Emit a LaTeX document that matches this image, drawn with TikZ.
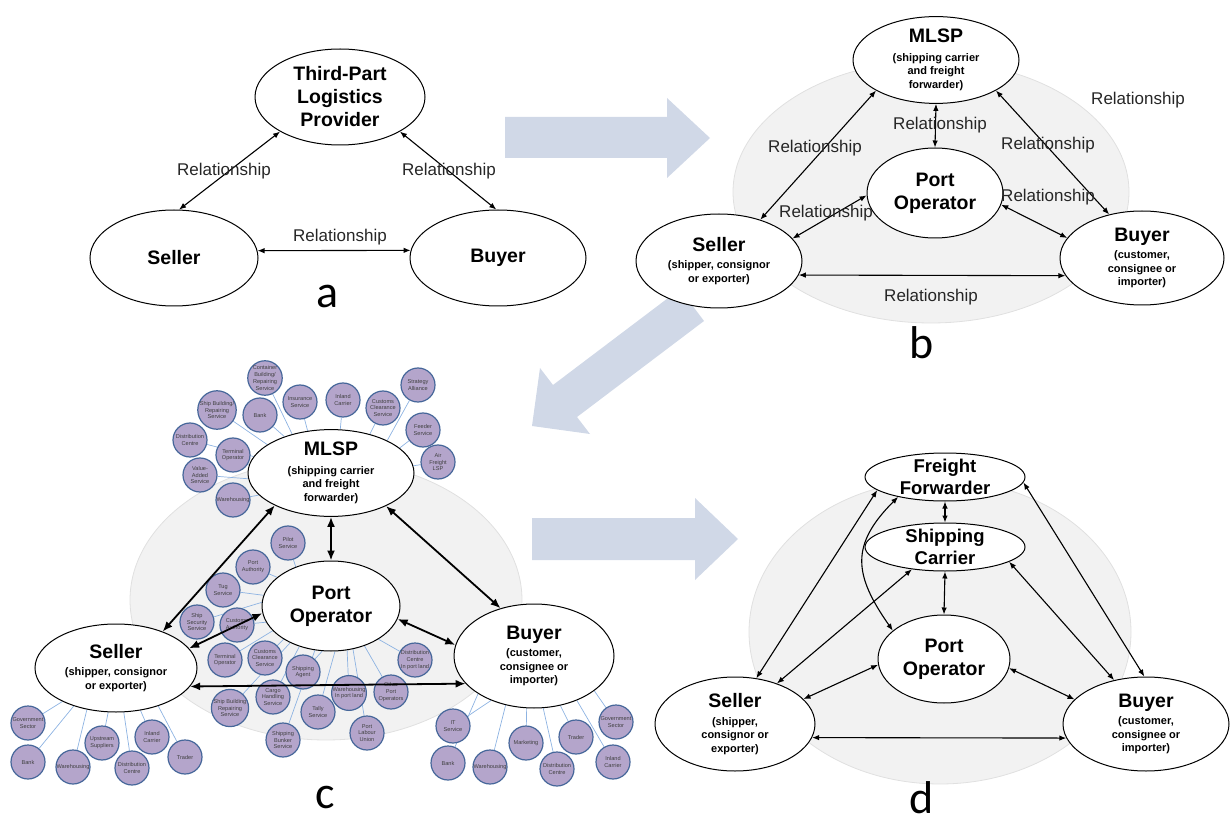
\documentclass[tikz,border=0pt]{standalone}
\usepackage{fontspec}
\setmainfont{Liberation Sans}
\newfontfamily\panelfont{Carlito}
\usetikzlibrary{shapes.geometric,arrows.meta}
\definecolor{hazefill}{HTML}{F2F2F2}
\definecolor{hazeedge}{HTML}{E0E0E0}
\definecolor{flowcol}{HTML}{D0D8E7}
\definecolor{satfill}{HTML}{B4A5CB}
\definecolor{satedge}{HTML}{46679A}
\definecolor{tiecol}{HTML}{8DB3E2}
\pgfdeclarelayer{back}
\pgfdeclarelayer{ties}
\pgfsetlayers{back,ties,main}
\tikzset{party/.style={ellipse, draw, line width=1pt, fill=white, inner sep=0pt,
           align=center, font=\bfseries\fontsize{19.5}{23}\selectfont}}
\tikzset{partysub/.style={party, font=\bfseries\fontsize{11}{13.5}\selectfont}}
\tikzset{sat/.style={circle, draw=satedge, line width=1.2pt, fill=satfill,
           minimum size=34pt, inner sep=0pt, align=center, text=black!75,
           font=\fontsize{5.6}{6.8}\selectfont}}
\tikzset{tie/.style={draw=tiecol, line width=0.7pt}}
\tikzset{rel/.style={<->, >={Latex[length=7pt,width=5.5pt]}, line width=1.1pt}}
\tikzset{relc/.style={rel, >={Latex[length=10pt,width=8pt]}, line width=1.8pt}}
\tikzset{lbl/.style={font=\fontsize{17}{20}\selectfont, text=black!85}}
\tikzset{panel/.style={font=\panelfont\fontsize{46}{50}\selectfont}}
\tikzset{ring/.style={fill=hazefill, draw=hazeedge, line width=0.8pt}}
\newcommand\bigtitle[1]{{\fontsize{19.5}{23}\selectfont #1}}

\begin{document}
\begin{tikzpicture}[x=1pt, y=-1pt]
  \useasboundingbox (0,0) rectangle (1232,826);
  % grey backdrops and the three big arrows
  \begin{pgfonlayer}{back}
    \path[ring] (931,192) ellipse [x radius=198, y radius=131];
    \path[ring] (326,600) ellipse [x radius=196, y radius=140];
    \path[ring] (940,632) ellipse [x radius=191, y radius=152];
    \fill[flowcol] (505,117) -- (667,117) -- (667,98) -- (710,138) -- (667,178)
      -- (667,158) -- (505,158) -- cycle;
    \fill[flowcol] (680,289) -- (553,385) -- (540,368) -- (532,426) -- (590,434)
      -- (577,417) -- (704,321) -- cycle;
    \fill[flowcol] (532,518) -- (695,518) -- (695,498) -- (738,539) -- (695,580)
      -- (695,560) -- (532,560) -- cycle;
  \end{pgfonlayer}

  % a
  \node[party, minimum width=170pt, minimum height=96pt] (tpl) at (340,97) {Third-Part\\Logistics\\Provider};
  \node[party, minimum width=168pt, minimum height=96pt] (sella) at (174,258) {Seller};
  \node[party, minimum width=176pt, minimum height=96pt] (buya) at (498,258) {Buyer};
  \draw[rel] (tpl.210) -- (sella.84);
  \draw[rel] (tpl.330) -- (buya.92);
  \draw[rel] (sella.5) -- (buya.175);
  \node[lbl] (ra1) at (224,171) {Relationship};
  \node[lbl] (ra2) at (449,171) {Relationship};
  \node[lbl] (ra3) at (340,237) {Relationship};
  \node[panel] (pa) at (328,296) {a};

  % b
  \node[partysub, minimum width=166pt, minimum height=82pt] (mlspb) at (936,60)
    {\bigtitle{MLSP}\\[5pt](shipping carrier\\and freight\\forwarder)};
  \node[party, minimum width=136pt, minimum height=90pt] (portb) at (935,193) {Port\\Operator};
  \node[partysub, minimum width=166pt, minimum height=94pt] (sellb) at (719,261)
    {\bigtitle{Seller}\\[4pt](shipper, consignor\\or exporter)};
  \node[partysub, minimum width=164pt, minimum height=94pt] (buyb) at (1142,258)
    {\bigtitle{Buyer}\\[4pt](customer,\\consignee or\\importer)};
  \draw[rel] (mlspb.207) -- (sellb.45);
  \draw[rel] (mlspb.270) -- (portb.90);
  \draw[rel] (mlspb.333) -- (buyb.127);
  \draw[rel] (portb.182) -- (sellb.17);
  \draw[rel] (portb.350) -- (buyb.165);
  \draw[rel] (sellb.350) -- (buyb.193);
  \node[lbl] (rb1) at (1138,100) {Relationship};
  \node[lbl] (rb2) at (940,125) {Relationship};
  \node[lbl] (rb3) at (815,148) {Relationship};
  \node[lbl] (rb4) at (1048,145) {Relationship};
  \node[lbl] (rb5) at (1048,197) {Relationship};
  \node[lbl] (rb6) at (826,213) {Relationship};
  \node[lbl] (rb7) at (931,297) {Relationship};
  \node[panel] (pb) at (922,343) {b};

  % c
  \node[partysub, minimum width=166pt, minimum height=86pt] (mlspc) at (331,473)
    {\bigtitle{MLSP}\\[5pt](shipping carrier\\and freight\\forwarder)};
  \node[party, minimum width=138pt, minimum height=90pt] (portc) at (331,606) {Port\\Operator};
  \node[partysub, minimum width=162pt, minimum height=88pt] (sellc) at (116,668)
    {\bigtitle{Seller}\\[4pt](shipper, consignor\\or exporter)};
  \node[partysub, minimum width=160pt, minimum height=104pt] (buyc) at (534,656)
    {\bigtitle{Buyer}\\[4pt](customer,\\consignee or\\importer)};

  \node[sat] (cbr) at (265,378) {Container\\Building/\\Repairing\\Service};
  \node[sat] (ins) at (300,402) {Insurance\\Service};
  \node[sat] (inl) at (343,400) {Inland\\Carrier};
  \node[sat] (ccm) at (383,408) {Customs\\Clearance\\Service};
  \node[sat] (sta) at (418,385) {Strategy\\Alliance};
  \node[sat] (fdr) at (423,430) {Feeder\\Service};
  \node[sat] (afl) at (438,462) {Air\\Freight\\LSP};
  \node[sat] (bkm) at (260,415) {Bank};
  \node[sat] (sbm) at (217,410) {Ship Building/\\Repairing\\Service};
  \node[sat] (dcm) at (190,440) {Distribution\\Centre};
  \node[sat] (tom) at (233,455) {Terminal\\Operator};
  \node[sat] (vam) at (200,475) {Value-\\Added\\Service};
  \node[sat] (whm) at (233,500) {Warehousing};

  \node[sat] (plt) at (288,543) {Pilot\\Service};
  \node[sat] (pau) at (253,567) {Port\\Authority};
  \node[sat] (tug) at (223,590) {Tug\\Service};
  \node[sat] (sss) at (197,622) {Ship\\Security\\Service};
  \node[sat] (cau) at (237,625) {Customs\\Authority};
  \node[sat] (top) at (225,660) {Terminal\\Operator};
  \node[sat] (ccp) at (265,658) {Customs\\Clearance\\Service};
  \node[sat] (sag) at (303,672) {Shipping\\Agent};
  \node[sat] (chs) at (273,697) {Cargo\\Handling\\Service};
  \node[sat] (sbp) at (230,708) {Ship Building\\Repairing\\Service};
  \node[sat] (sbs) at (283,740) {Shipping\\Bunker\\Service};
  \node[sat] (tly) at (318,712) {Tally\\Service};
  \node[sat] (wpl) at (349,693) {Warehousing\\In port land};
  \node[sat] (plu) at (367,733) {Port\\Labour\\Union};
  \node[sat] (opo) at (391,692) {Other\\Port\\Operators};
  \node[sat] (dcp) at (415,660) {Distribution\\Centre\\In port land};

  \node[sat] (gvs) at (28,723) {Government\\Sector};
  \node[sat] (bks) at (28,762) {Bank};
  \node[sat] (wss) at (73,767) {Warehousing};
  \node[sat] (ups) at (102,743) {Upstream\\Suppliers};
  \node[sat] (dcs) at (132,768) {Distribution\\Centre};
  \node[sat] (ics) at (152,737) {Inland\\Carrier};
  \node[sat] (trs) at (185,757) {Trader};

  \node[sat] (itb) at (453,726) {IT\\Service};
  \node[sat] (bkb) at (448,763) {Bank};
  \node[sat] (whb) at (490,767) {Warehousing};
  \node[sat] (mkb) at (526,743) {Marketing};
  \node[sat] (dcb) at (557,769) {Distribution\\Centre};
  \node[sat] (trb) at (576,737) {Trader};
  \node[sat] (gvb) at (616,722) {Government\\Sector};
  \node[sat] (icb) at (613,762) {Inland\\Carrier};

  \begin{pgfonlayer}{ties}
    \draw[tie] (cbr) -- (mlspc.135);
    \draw[tie] (ins) -- (mlspc.119);
    \draw[tie] (inl) -- (mlspc.78);
    \draw[tie] (ccm) -- (mlspc.45);
    \draw[tie] (sta) -- (mlspc.30);
    \draw[tie] (fdr) -- (mlspc.20);
    \draw[tie] (afl) -- (mlspc.5);
    \draw[tie] (bkm) -- (mlspc.142);
    \draw[tie] (sbm) -- (mlspc.156);
    \draw[tie] (dcm) -- (mlspc.168);
    \draw[tie] (tom) -- (mlspc.174);
    \draw[tie] (vam) -- (mlspc.184);
    \draw[tie] (whm) -- (mlspc.197);
    \draw[tie] (plt) -- (portc.132);
    \draw[tie] (pau) -- (portc.152);
    \draw[tie] (tug) -- (portc.171);
    \draw[tie] (sss) -- (portc.177);
    \draw[tie] (cau) -- (portc.194);
    \draw[tie] (top) -- (portc.203);
    \draw[tie] (ccp) -- (portc.215);
    \draw[tie] (sag) -- (portc.259);
    \draw[tie] (chs) -- (portc.232);
    \draw[tie] (sbp) -- (portc.222);
    \draw[tie] (sbs) -- (portc.250);
    \draw[tie] (tly) -- (portc.275);
    \draw[tie] (wpl) -- (portc.290);
    \draw[tie] (plu) -- (portc.297);
    \draw[tie] (opo) -- (portc.310);
    \draw[tie] (dcp) -- (portc.325);
    \draw[tie] (gvs) -- (sellc.212);
    \draw[tie] (bks) -- (sellc.222);
    \draw[tie] (wss) -- (sellc.235);
    \draw[tie] (ups) -- (sellc.260);
    \draw[tie] (dcs) -- (sellc.280);
    \draw[tie] (ics) -- (sellc.300);
    \draw[tie] (trs) -- (sellc.318);
    \draw[tie] (itb) -- (buyc.226);
    \draw[tie] (bkb) -- (buyc.214);
    \draw[tie] (whb) -- (buyc.240);
    \draw[tie] (mkb) -- (buyc.262);
    \draw[tie] (dcb) -- (buyc.280);
    \draw[tie] (trb) -- (buyc.298);
    \draw[tie] (gvb) -- (buyc.330);
    \draw[tie] (icb) -- (buyc.314);
  \end{pgfonlayer}

  \draw[relc] (mlspc.210) -- (sellc.38);
  \draw[relc] (mlspc.270) -- (portc.90);
  \draw[relc] (mlspc.329) -- (buyc.125);
  \draw[relc] (portc.186) -- (sellc.15);
  \draw[relc] (portc.349) -- (buyc.172);
  \draw[relc] (sellc.346) -- (buyc.202);
  \node[panel] (pc) at (325,798) {c};

  % d
  \node[party, font=\bfseries\fontsize{18.5}{22}\selectfont, inner ysep=-1pt,
        minimum width=160pt, minimum height=48pt] (ffd) at (945,477) {Freight\\Forwarder};
  \node[party, font=\bfseries\fontsize{18.5}{22}\selectfont, inner ysep=-1pt,
        minimum width=160pt, minimum height=48pt] (scd) at (945,547) {Shipping\\Carrier};
  \node[party, minimum width=132pt, minimum height=88pt] (portd) at (944,659) {Port\\Operator};
  \node[partysub, minimum width=160pt, minimum height=94pt] (selld) at (735,724)
    {\bigtitle{Seller}\\[4pt](shipper,\\consignor or\\exporter)};
  \node[partysub, minimum width=166pt, minimum height=94pt] (buyd) at (1146,724)
    {\bigtitle{Buyer}\\[4pt](customer,\\consignee or\\importer)};
  \draw[rel] (ffd.191) -- (selld.65);
  \draw[rel] (ffd.203) to[out=225, in=125, looseness=1.3] (portd.151);
  \draw[rel] (ffd.270) -- (scd.90);
  \draw[rel] (ffd.356) -- (buyd.92);
  \draw[rel] (scd.214) -- (selld.44);
  \draw[rel] (scd.270) -- (portd.90);
  \draw[rel] (scd.347) -- (buyd.126);
  \draw[rel] (portd.185) -- (selld.20);
  \draw[rel] (portd.352) -- (buyd.161);
  \draw[rel] (selld.350) -- (buyd.190);
  \node[panel] (pd) at (922,798) {d};
\end{tikzpicture}
\end{document}
